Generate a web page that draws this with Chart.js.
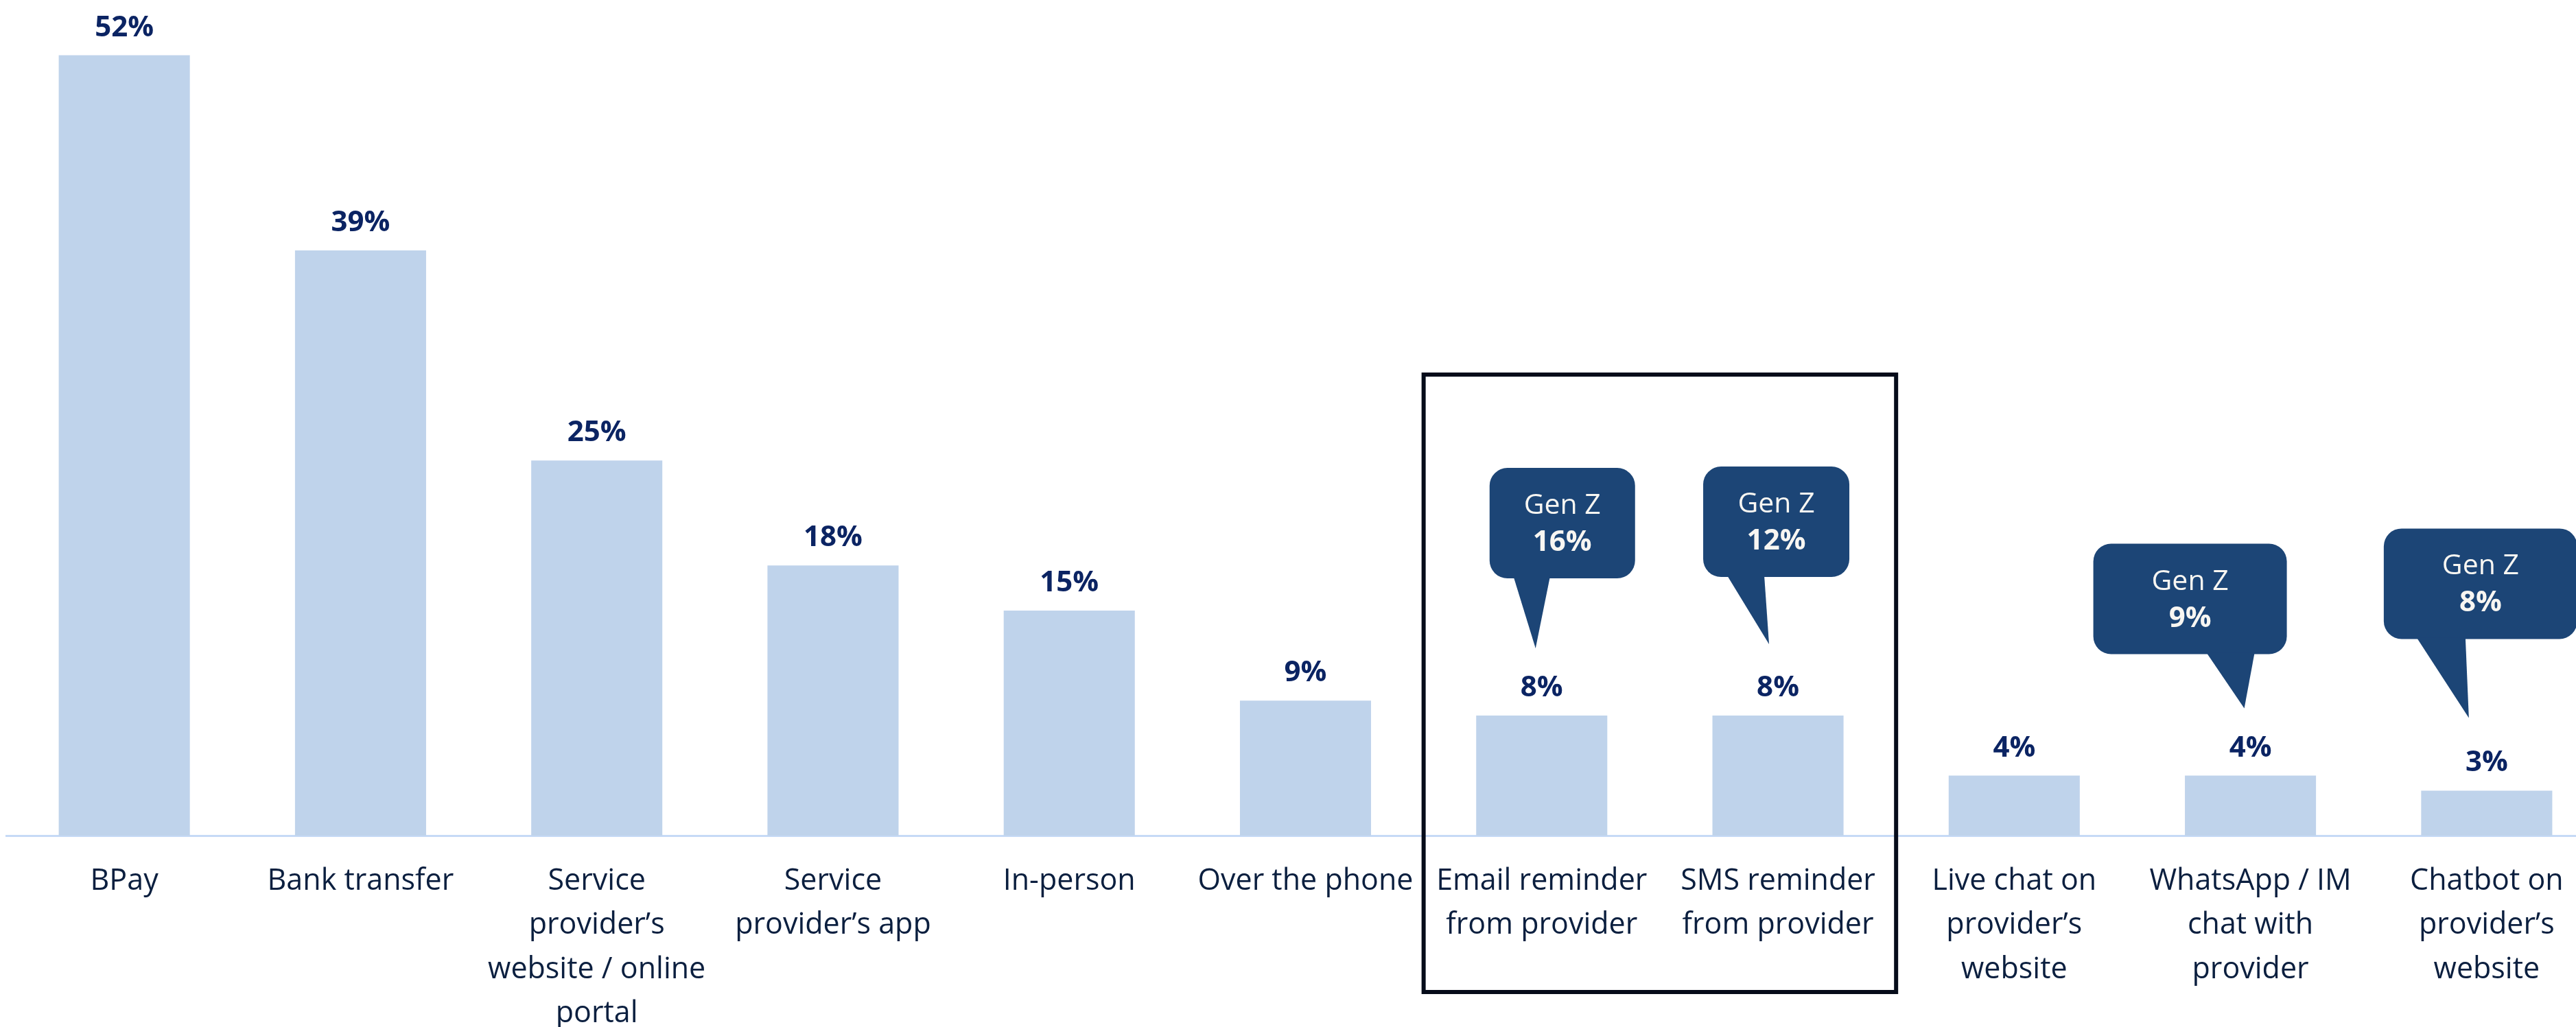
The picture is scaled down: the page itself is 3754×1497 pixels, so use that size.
<!DOCTYPE html>
<html>
<head>
<meta charset="utf-8">
<script src="https://cdn.jsdelivr.net/npm/chart.js@4.4.1/dist/chart.umd.min.js"></script>
<style>
  html, body { margin: 0; padding: 0; background: #ffffff; overflow: hidden; }
  #wrap { width: 3754px; height: 1497px; overflow: hidden; position: relative; }
  #chart { display: block; }
</style>
</head>
<body>
<div id="wrap"><canvas id="chart" width="3806" height="1497"></canvas></div>
<script>
const categories = [
  "BPay",
  "Bank transfer",
  ["Service", "provider’s", "website / online", "portal"],
  ["Service", "provider’s app"],
  "In-person",
  "Over the phone",
  ["Email reminder", "from provider"],
  ["SMS reminder", "from provider"],
  ["Live chat on", "provider’s", "website"],
  ["WhatsApp / IM", "chat with", "provider"],
  ["Chatbot on", "provider’s", "website"]
];
const allValues = [52, 39, 25, 18, 15, 9, 8, 8, 4, 4, 3];
const genZValues = [null, null, null, null, null, null, 16, 12, null, 9, 8];
const genZLabel = "Gen Z";
const highlighted = [6, 7];

// callout bubble placement, relative to the bar centre / bar top
const bubbleLayout = {
  6:  { left: -76,  w: 212, rise: 361, tailA: 35,  tailB: 88,  tipDx: -9,  tipRise: 98 },
  7:  { left: -109, w: 213, rise: 363, tailA: 35,  tailB: 89,  tipDx: -13, tipRise: 104 },
  9:  { left: -229, w: 282, rise: 338, tailA: 165, tailB: 235, tipDx: -9,  tipRise: 98 },
  10: { left: -150, w: 282, rise: 382, tailA: 48,  tailB: 119, tipDx: -26, tipRise: 106 }
};

const FONT = "'Open Sans', 'Noto Sans', sans-serif";
const BAR_COLOR = "#bfd3eb";
const LABEL_COLOR = "#0b2463";
const BUBBLE_COLOR = "#1c4576";

function roundRect(ctx, x, y, w, h, r) {
  ctx.beginPath();
  ctx.moveTo(x + r, y);
  ctx.lineTo(x + w - r, y);
  ctx.arcTo(x + w, y, x + w, y + r, r);
  ctx.lineTo(x + w, y + h - r);
  ctx.arcTo(x + w, y + h, x + w - r, y + h, r);
  ctx.lineTo(x + r, y + h);
  ctx.arcTo(x, y + h, x, y + h - r, r);
  ctx.lineTo(x, y + r);
  ctx.arcTo(x, y, x + r, y, r);
  ctx.closePath();
}

const overlays = {
  id: "overlays",
  afterDatasetsDraw(chart) {
    const ctx = chart.ctx;
    const bars = chart.getDatasetMeta(0).data;
    const slot = chart.scales.x.width / categories.length;

    // value labels above each bar
    ctx.save();
    ctx.fillStyle = LABEL_COLOR;
    ctx.font = "bold 42px " + FONT;
    ctx.textAlign = "center";
    ctx.textBaseline = "alphabetic";
    bars.forEach((bar, i) => {
      ctx.fillText(allValues[i] + "%", bar.x, bar.y - 28);
    });
    ctx.restore();

    // frame around the reminder categories
    const first = bars[highlighted[0]];
    const last = bars[highlighted[highlighted.length - 1]];
    ctx.save();
    ctx.strokeStyle = "#060c1a";
    ctx.lineWidth = 6;
    ctx.strokeRect(first.x - slot / 2, 546, (last.x - first.x) + slot, 900);
    ctx.restore();

    // Gen Z speech bubbles
    genZValues.forEach((v, i) => {
      if (v === null) return;
      const bar = bars[i];
      const L = bubbleLayout[i];
      const bx = bar.x + L.left;
      const by = bar.y - L.rise;
      const h = 161;
      ctx.save();
      ctx.fillStyle = BUBBLE_COLOR;
      roundRect(ctx, bx, by, L.w, h, 26);
      ctx.fill();
      ctx.beginPath();
      ctx.moveTo(bx + L.tailA, by + h - 2);
      ctx.lineTo(bx + L.tailB, by + h - 2);
      ctx.lineTo(bar.x + L.tipDx, bar.y - L.tipRise);
      ctx.closePath();
      ctx.fill();
      ctx.fillStyle = "#f8f6f2";
      ctx.textAlign = "center";
      ctx.textBaseline = "alphabetic";
      ctx.font = "41px " + FONT;
      ctx.fillText(genZLabel, bx + L.w / 2, by + 67);
      ctx.font = "bold 42px " + FONT;
      ctx.fillText(v + "%", bx + L.w / 2, by + 121);
      ctx.restore();
    });
  }
};

new Chart(document.getElementById("chart"), {
  type: "bar",
  data: {
    labels: categories,
    datasets: [{
      data: allValues,
      backgroundColor: BAR_COLOR,
      borderWidth: 0,
      barPercentage: 0.555,
      categoryPercentage: 1
    }]
  },
  options: {
    responsive: false,
    animation: false,
    devicePixelRatio: 1,
    layout: { padding: { top: 15, left: 9, right: 10, bottom: 0 } },
    plugins: { legend: { display: false }, tooltip: { enabled: false } },
    scales: {
      x: {
        grid: { display: false, drawTicks: false },
        border: { display: true, color: "#c6daf6", width: 3 },
        ticks: {
          autoSkip: false,
          maxRotation: 0,
          minRotation: 0,
          padding: 34,
          color: "#0b1f3f",
          font: { family: FONT, size: 43, lineHeight: 1.5 }
        },
        afterFit(scale) { scale.height = 279; }
      },
      y: {
        display: false,
        min: 0,
        max: 55
      }
    }
  },
  plugins: [overlays]
});
</script>
</body>
</html>
